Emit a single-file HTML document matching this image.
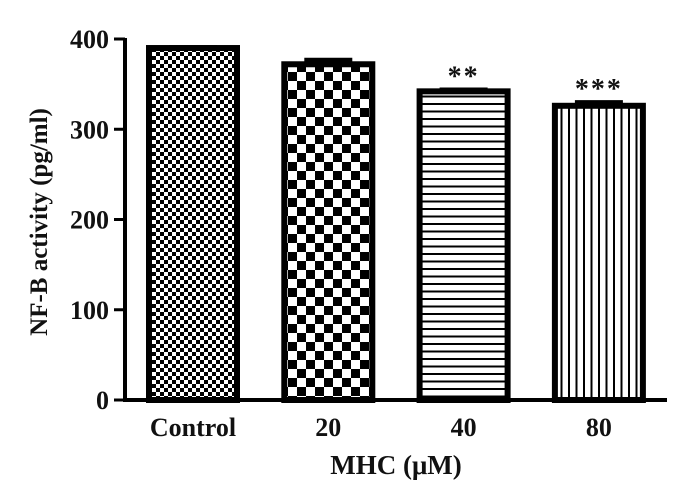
<!DOCTYPE html>
<html><head><meta charset="utf-8"><style>
html,body{margin:0;padding:0;background:#fff;}
svg{display:block;}
text{font-family:"Liberation Serif",serif;font-weight:bold;fill:#111;}
</style></head><body>
<svg id="chart" width="695" height="501" viewBox="0 0 695 501" xmlns="http://www.w3.org/2000/svg">
<defs>
<pattern id="p0" width="8" height="8" patternUnits="userSpaceOnUse"><rect width="8" height="8" fill="#fff"/><rect width="4" height="4" fill="#000"/><rect x="4" y="4" width="4" height="4" fill="#000"/></pattern>
<pattern id="p1" width="18" height="18" patternUnits="userSpaceOnUse"><rect width="18" height="18" fill="#fff"/><rect width="9" height="9" fill="#000"/><rect x="9" y="9" width="9" height="9" fill="#000"/></pattern>
<pattern id="p2" width="8" height="7.5" patternUnits="userSpaceOnUse"><rect width="8" height="7.5" fill="#fff"/><rect y="5.5" width="8" height="2" fill="#000"/></pattern>
<pattern id="p3" width="7.5" height="8" patternUnits="userSpaceOnUse"><rect width="7.5" height="8" fill="#fff"/><rect x="5.5" width="2" height="8" fill="#000"/></pattern>
</defs>
<g id="plot"></g>
</svg>
<script>
const categories=["Control","20","40","80"];
const values=[390,372,342,326];
const errors=[1,5,2,4];
const sigLabels=["","","**","***"];
const yTicks=[0,100,200,300,400];

const svg=document.getElementById('plot');
const NS="http://www.w3.org/2000/svg";
const y0=400,pxPer=361/400;
function Y(v){return y0-v*pxPer;}
function X(i){return 193+i*135.3;}
const bw=88;
function mk(tag,attrs,txt){const e=document.createElementNS(NS,tag);for(const k in attrs)e.setAttribute(k,attrs[k]);if(txt!==undefined)e.textContent=txt;svg.appendChild(e);return e;}

categories.forEach((c,i)=>{
  const v=values[i],x=X(i);
  const eb=mk('line',{x1:x-24,x2:x+24,y1:Y(v+errors[i]),y2:Y(v+errors[i]),stroke:'#000','stroke-width':4});
  
  
  const es=mk('line',{x1:x,x2:x,y1:Y(v+errors[i]),y2:Y(v),stroke:'#000','stroke-width':3});
  
  
  const r=mk('rect',{x:x-bw/2,y:Y(v),width:bw,height:Y(0)-Y(v),fill:'url(#p'+i+')',stroke:'#000','stroke-width':6});
  
  
  const t=mk('text',{x:x,y:436,'font-size':26,'text-anchor':'middle'},c);
  
  
  if(sigLabels[i]){
    const s=mk('text',{x:x,y:Y(v+errors[i])-4,'font-size':28,'text-anchor':'middle','font-weight':'normal','letter-spacing':'2'},sigLabels[i]);
    
    
  }
});
const ya=mk('line',{x1:125,x2:125,y1:Y(400)-1,y2:y0+2,stroke:'#000','stroke-width':4});


const xa=mk('line',{x1:123,x2:667,y1:y0,y2:y0,stroke:'#000','stroke-width':4});


yTicks.forEach(v=>{
  const tk=mk('line',{x1:114,x2:125,y1:Y(v),y2:Y(v),stroke:'#000','stroke-width':3});
  
  
  const t=mk('text',{x:109,y:Y(v)+9,'font-size':26,'text-anchor':'end'},String(v));
  
  
});
const yt=mk('text',{x:0,y:0,'font-size':25,'text-anchor':'middle',transform:'translate(47,222) rotate(-90)'},'NF-B activity (pg/ml)');


const xt=mk('text',{x:396,y:474,'font-size':27,'text-anchor':'middle'},'MHC (\u03BCM)');


</script>
</body></html>
